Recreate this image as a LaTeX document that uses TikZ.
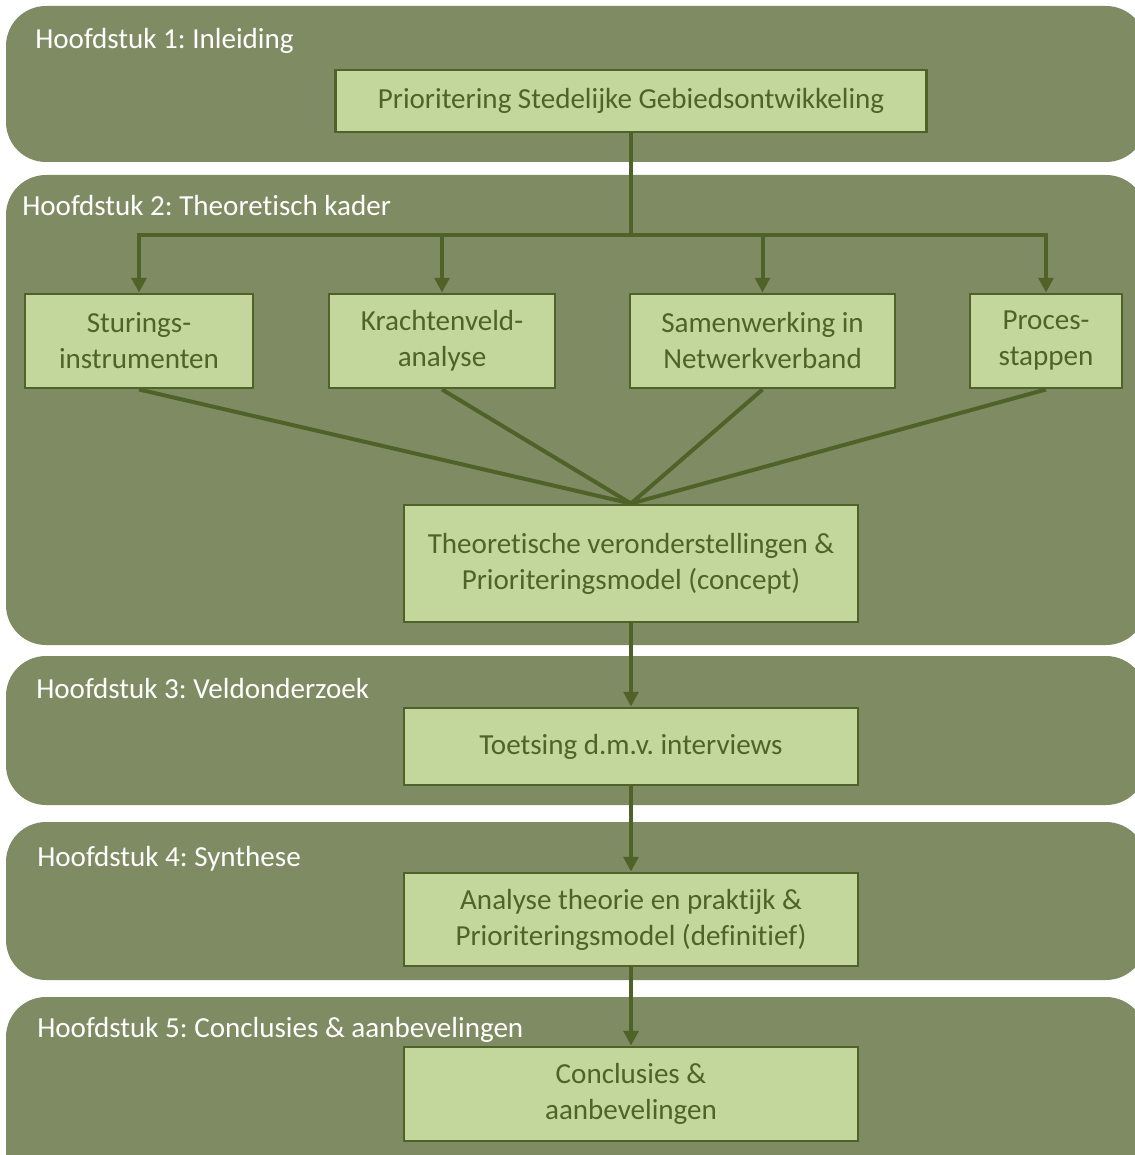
\documentclass[tikz,border=0pt]{standalone}
\usepackage{fontspec}
\setmainfont{Carlito}[Ligatures={NoCommon}]
\frenchspacing
\usetikzlibrary{arrows.meta}
\definecolor{panelfill}{RGB}{127,139,98}
\definecolor{boxfill}{RGB}{195,214,155}
\definecolor{boxline}{RGB}{79,98,40}
\begin{document}
\begin{tikzpicture}[x=0.75pt,y=-0.75pt,
  panel/.style={fill=panelfill,rounded corners=30pt},
  title/.style={anchor=base west,text=white,inner sep=0pt,font=\fontsize{21.8}{27}\selectfont},
  box/.style={draw=boxline,fill=boxfill,line width=2.2pt,text=boxline,align=center,
    inner sep=0pt,font=\fontsize{21.8}{27}\selectfont},
  conn/.style={draw=boxline,line width=3pt},
  arr/.style={conn,-{Triangle[width=11pt,length=11pt]}}]
\useasboundingbox (0,0) rectangle (1134,1155);

% chapter panels
\fill[panel] (6,6) rectangle (1146,162);
\fill[panel] (6,175) rectangle (1146,645);
\fill[panel] (6,656) rectangle (1146,805);
\fill[panel] (6,822) rectangle (1146,980);
\fill[panel] (6,997) rectangle (1146,1195);

% chapter titles
\node[title] (t1) at (35,49) {Hoofdstuk 1: Inleiding};
\node[title] (t2) at (22,216) {Hoofdstuk 2: Theoretisch kader};
\node[title] (t3) at (36,698) {Hoofdstuk 3: Veldonderzoek};
\node[title] (t4) at (37,866) {Hoofdstuk 4: Synthese};
\node[title] (t5) at (37,1037) {Hoofdstuk 5: Conclusies \& aanbevelingen};

% boxes
\node[box,minimum width=443.25pt,minimum height=46.5pt] (top) at (631,101)
  {\raisebox{-1.5pt}{Prioritering Stedelijke Gebiedsontwikkeling}};
\node[box,minimum width=171pt,minimum height=70.5pt] (stur) at (139,341)
  {Sturings-\\instrumenten};
\node[box,minimum width=169.5pt,minimum height=70.5pt] (kracht) at (442,341)
  {Krachtenveld-\\analyse\vphantom{g}};
\node[box,minimum width=198.75pt,minimum height=70.5pt] (samen) at (762.5,341)
  {Samenwerking in\\Netwerkverband};
\node[box,minimum width=114pt,minimum height=70.5pt] (proces) at (1046,341)
  {Proces-\\stappen\vphantom{g}};
\node[box,minimum width=340.5pt,minimum height=87.75pt] (theor) at (631,563.5)
  {Theoretische veronderstellingen \&\\Prioriteringsmodel (concept)};
\node[box,minimum width=340.5pt,minimum height=57.75pt] (toets) at (631,746.5)
  {\raisebox{-1.5pt}{Toetsing d.m.v. interviews}};
\node[box,minimum width=340.5pt,minimum height=69.75pt] (anal) at (631,919.5)
  {Analyse theorie en praktijk \&\\Prioriteringsmodel (definitief)};
\node[box,minimum width=340.5pt,minimum height=70.5pt] (concl) at (631,1094)
  {Conclusies \&\\aanbevelingen};

% branching from the main theme to the four themes
\coordinate (split) at (631,235);
\draw[conn] (top.south) -- (split);
\draw[conn,line cap=rect] (stur.north |- split) -- (proces.north |- split);
\foreach \n in {stur,kracht,samen,proces}
  \draw[arr] (\n.north |- split) -- (\n.north);

% convergence into the theoretical model
\foreach \n in {stur,kracht,samen,proces}
  \draw[conn] (\n.south) -- (theor.north);

% main flow
\draw[arr] (theor.south) -- (toets.north);
\draw[arr] (toets.south) -- (anal.north);
\draw[arr] (anal.south) -- (concl.north);
\end{tikzpicture}
\end{document}
